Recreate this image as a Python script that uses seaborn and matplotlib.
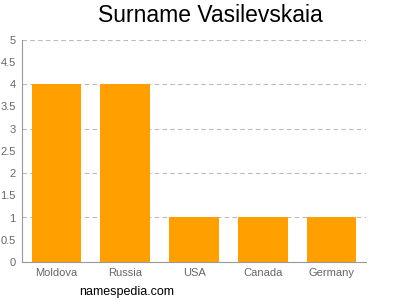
import matplotlib
matplotlib.use("Agg")
import matplotlib.pyplot as plt
import seaborn as sns
import pandas as pd

countries = ["Moldova", "Russia", "USA", "Canada", "Germany"]
counts = [4, 4, 1, 1, 1]
yticks = [0, 0.5, 1, 1.5, 2, 2.5, 3, 3.5, 4, 4.5, 5]
yticklabels = ["0", "0.5", "1", "1.5", "2", "2.5", "3", "3.5", "4", "4.5", "5"]

sns.set_style("white")
plt.rcParams['font.family'] = ['Liberation Sans', 'DejaVu Sans']

df = pd.DataFrame({"country": countries, "count": counts})

fig = plt.figure(figsize=(4, 3), dpi=100)
ax = fig.add_axes([0.055, 0.127, 0.86, 0.74])
sns.barplot(data=df, x="country", y="count", color="#ffa000", saturation=1,
            width=0.72, ax=ax, zorder=3, linewidth=0, edgecolor="none")

ax.set_ylim(0, 5)
ax.set_xlim(-0.5, 4.5)
ax.set_yticks(yticks)
ax.set_yticklabels(yticklabels)
for y in [1, 2, 3, 4, 5]:
    ax.axhline(y, color="#bbbbbb", linestyle=(0, (4, 3)), linewidth=0.8, zorder=1)
ax.set_xlabel("")
ax.set_ylabel("")
for s in ["top", "right"]:
    ax.spines[s].set_visible(False)
for s in ["left", "bottom"]:
    ax.spines[s].set_color("#999999")
    ax.spines[s].set_linewidth(0.8)
ax.tick_params(axis="both", labelsize=8, colors="#888888", length=3, width=0.6,
               direction="out", pad=1.5)
ax.tick_params(axis="both", labelcolor="#666666")

fig.text(0.525, 0.948, "Surname Vasilevskaia", ha="center", va="center",
         fontsize=16.5, color="#000000")
fig.text(0.198, 0.025, "namespedia.com", ha="left", va="center",
         fontsize=9, color="#000000")

fig.savefig("out.png", dpi=100)
